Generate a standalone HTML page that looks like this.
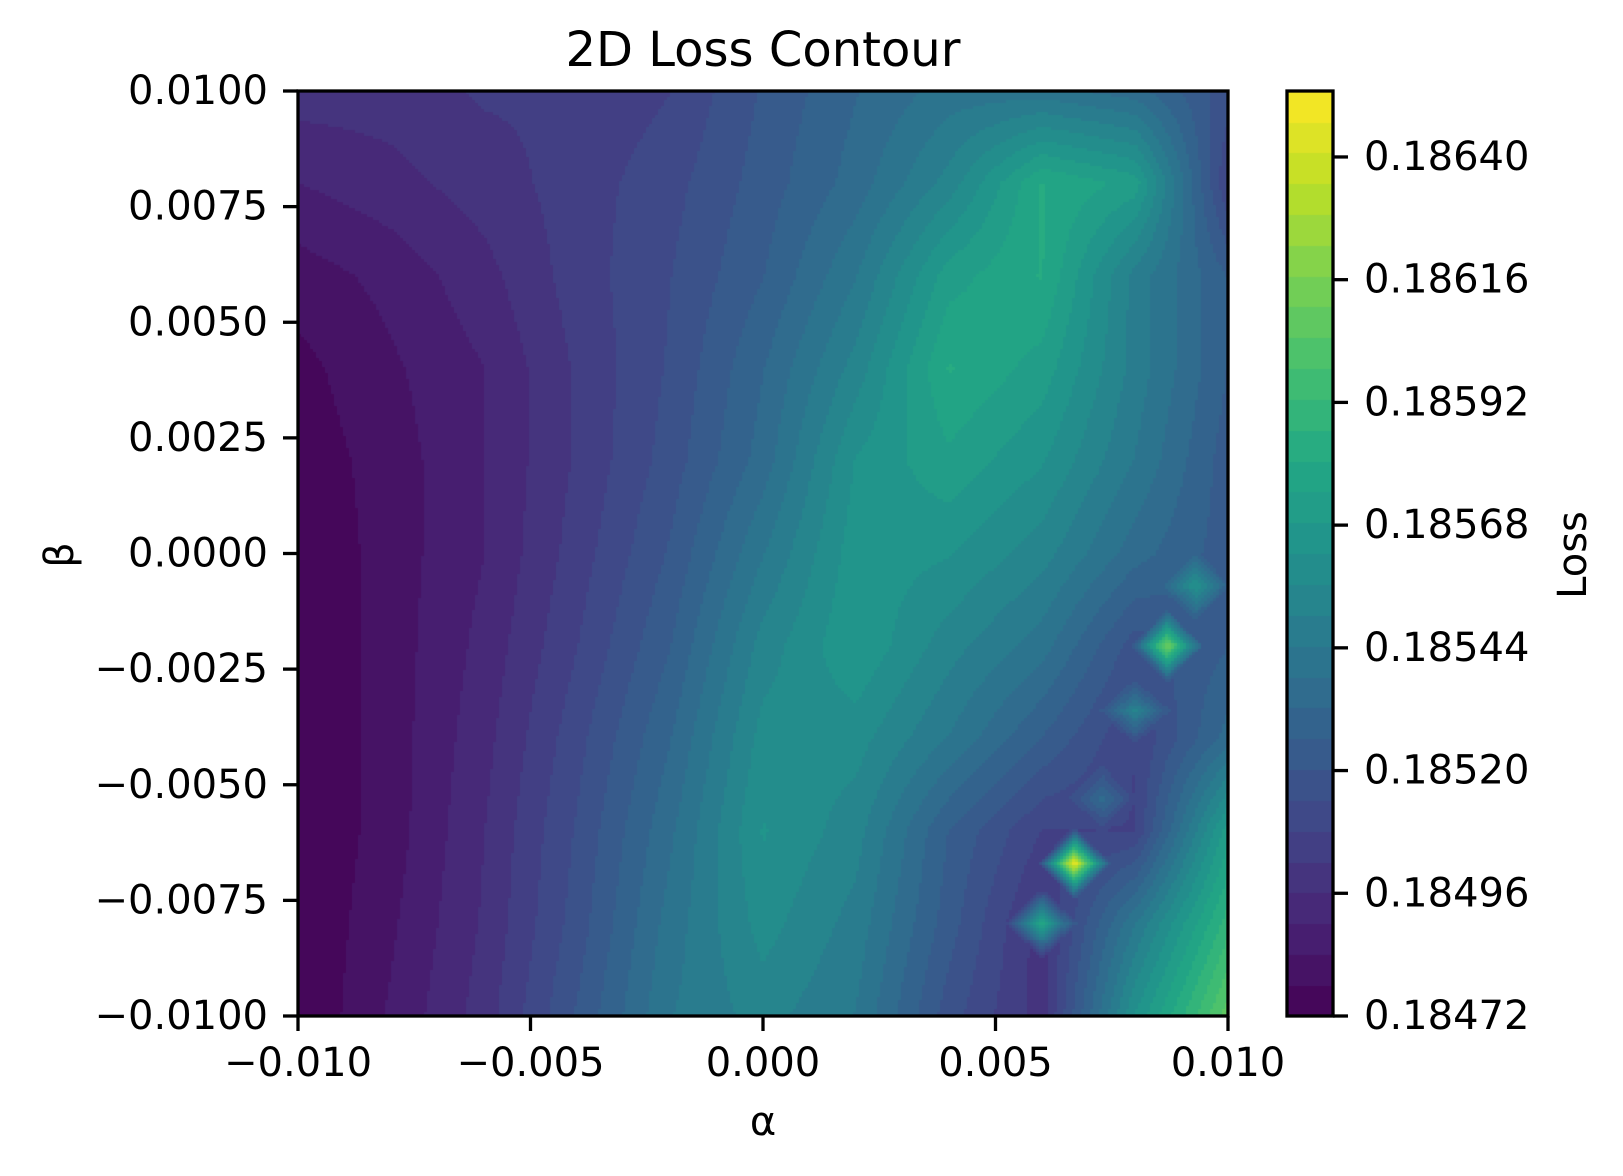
<!DOCTYPE html>
<html><head><meta charset="utf-8"><style>
html,body{margin:0;padding:0;background:#fff;}
#wrap{position:relative;width:1623px;height:1176px;}
svg text{font-family:"DejaVu Sans","Liberation Sans",sans-serif;fill:#000;}
canvas{position:absolute;}
</style></head><body>
<div id="wrap">
<canvas id="field" width="930" height="925" style="left:298px;top:91px"></canvas>
<canvas id="cbar" width="46" height="925" style="left:1287px;top:91px"></canvas>
<svg id="ax" width="1623" height="1176" style="position:absolute;left:0;top:0"></svg>
</div>
<script>
const alphaTicks=[-0.010,-0.005,0.000,0.005,0.010];
const alphaTickLabels=["\u22120.010","\u22120.005","0.000","0.005","0.010"];
const betaTicks=[0.01,0.0075,0.005,0.0025,0,-0.0025,-0.005,-0.0075,-0.01];
const betaTickLabels=["0.0100","0.0075","0.0050","0.0025","0.0000","\u22120.0025","\u22120.0050","\u22120.0075","\u22120.0100"];
const cbTicks=[0.18472,0.18496,0.18520,0.18544,0.18568,0.18592,0.18616,0.18640];
const cbTickLabels=["0.18472","0.18496","0.18520","0.18544","0.18568","0.18592","0.18616","0.18640"];
const gridAlpha=[-0.01,-0.008,-0.006,-0.004,-0.002,0,0.002,0.004,0.006,0.008,0.01];
const gridBeta=[0.01,0.008,0.006,0.004,0.002,0,-0.002,-0.004,-0.006,-0.008,-0.01];
const lossGrid=[
[18499,18499,18503,18503,18508,18521,18532,18541,18541,18535,18517],
[18490,18494,18499,18505,18512,18523,18535,18553,18581,18572,18508],
[18481,18486,18494,18505,18514,18526,18544,18572,18581,18548,18526],
[18476,18483,18490,18503,18515,18532,18553,18581,18572,18548,18526],
[18474,18481,18490,18503,18517,18535,18563,18573,18563,18544,18523],
[18472,18481,18490,18505,18521,18544,18566,18563,18553,18535,18523],
[18472,18481,18492,18508,18526,18553,18568,18553,18541,18517,18526],
[18472,18481,18494,18512,18532,18559,18559,18544,18526,18508,18535],
[18472,18481,18496,18515,18537,18563,18553,18526,18508,18508,18572],
[18472,18483,18497,18517,18541,18559,18548,18523,18499,18544,18590],
[18472,18485,18499,18521,18544,18553,18544,18517,18499,18563,18608]
];
const spikeAlpha=[0.0067,0.0087,0.0060,0.0093,0.0080,0.0073];
const spikeBeta=[-0.0067,-0.0020,-0.0080,-0.0007,-0.0034,-0.0053];
const spikeLoss=[18650,18617,18581,18563,18553,18535];

const vmin=0.18472, vmax=0.186529, nLevels=30;
const PL=298,PT=91,PR=1228,PB=1016,CBL=1287,CBR=1333;
const xS=a=>PL+(a+0.01)/0.02*(PR-PL);
const yS=b=>PT+(0.01-b)/0.02*(PB-PT);
const cS=v=>PB-(v-vmin)/(vmax-vmin)*(PB-PT);
const vir=[[68,1,84],[72,36,117],[65,68,135],[53,95,141],[42,120,142],[33,145,140],[34,168,132],[68,191,112],[122,209,81],[189,223,38],[253,231,37]];
function cmap(t){t=Math.max(0,Math.min(1,t));const f=t*10,i=Math.min(9,Math.floor(f)),r=f-i;const a=vir[i],b=vir[i+1];return `rgb(${Math.round(a[0]+(b[0]-a[0])*r)},${Math.round(a[1]+(b[1]-a[1])*r)},${Math.round(a[2]+(b[2]-a[2])*r)})`;}
function qcol(v){let t=(v-vmin)/(vmax-vmin);let k=Math.floor(t*nLevels);k=Math.max(0,Math.min(nLevels-1,k));return cmap((k+0.5)/nLevels);}
function lossAt(a,b){
  const gi=(a+0.01)/0.002, gj=(0.01-b)/0.002;
  const i=Math.min(9,Math.max(0,Math.floor(gi))), j=Math.min(9,Math.max(0,Math.floor(gj)));
  const u=gi-i,w=gj-j;
  let v=(lossGrid[j][i]*(1-u)*(1-w)+lossGrid[j][i+1]*u*(1-w)+lossGrid[j+1][i]*(1-u)*w+lossGrid[j+1][i+1]*u*w)/1e5;
  for(let s=0;s<spikeAlpha.length;s++){
    const d=Math.abs(a-spikeAlpha[s])+Math.abs(b-spikeBeta[s]);const r=0.0008;
    if(d<r){const base=v;const pk=spikeLoss[s]/1e5;const sv=pk-(pk-base)*(d/r);if(sv>v)v=sv;}
  }
  return v;
}
const fc=document.getElementById('field').getContext('2d');
const cell=3;
for(let y=0;y<925;y+=cell){for(let x=0;x<930;x+=cell){
  const a=-0.01+(x+cell/2)/930*0.02, b=0.01-(y+cell/2)/925*0.02;
  fc.fillStyle=qcol(lossAt(a,b));fc.fillRect(x,y,cell,cell);
}}
const cc=document.getElementById('cbar').getContext('2d');
for(let k=0;k<nLevels;k++){
  const v0=vmin+k*(vmax-vmin)/nLevels,v1=vmin+(k+1)*(vmax-vmin)/nLevels;
  cc.fillStyle=cmap((k+0.5)/nLevels);
  const y0=cS(v1)-PT,y1=cS(v0)-PT;cc.fillRect(0,Math.floor(y0),46,Math.ceil(y1-y0)+1);
}
const svg=document.getElementById('ax');const NS='http://www.w3.org/2000/svg';
function mk(tag,at,txt){const e=document.createElementNS(NS,tag);for(const k in at)e.setAttribute(k,at[k]);if(txt!==undefined)e.textContent=txt;svg.appendChild(e);return e;}
let e;
e=mk('rect',{x:PL,y:PT,width:PR-PL,height:PB-PT,fill:'none',stroke:'#000','stroke-width':3.3});


e=mk('rect',{x:CBL,y:PT,width:CBR-CBL,height:PB-PT,fill:'none',stroke:'#000','stroke-width':3.3});


alphaTicks.forEach((t,i)=>{const x=xS(t);
  e=mk('line',{x1:x,x2:x,y1:PB,y2:PB+15,stroke:'#000','stroke-width':3.3});
  
  
  e=mk('text',{x:x,y:1063,'text-anchor':'middle','dominant-baseline':'central','font-size':40},alphaTickLabels[i]);
  
  
});
betaTicks.forEach((t,i)=>{const y=yS(t);
  e=mk('line',{x1:PL-15,x2:PL,y1:y,y2:y,stroke:'#000','stroke-width':3.3});
  
  
  e=mk('text',{x:283-15,y:y,'text-anchor':'end','dominant-baseline':'central','font-size':40},betaTickLabels[i]);
  
  
});
cbTicks.forEach((t,i)=>{const y=cS(t);
  e=mk('line',{x1:CBR,x2:CBR+15,y1:y,y2:y,stroke:'#000','stroke-width':3.3});
  
  
  e=mk('text',{x:1364,y:y,'text-anchor':'start','dominant-baseline':'central','font-size':40},cbTickLabels[i]);
  
  
});
e=mk('text',{x:(PL+PR)/2,y:50,'text-anchor':'middle','dominant-baseline':'central','font-size':48},'2D Loss Contour');


e=mk('text',{x:(PL+PR)/2,y:1122,'text-anchor':'middle','dominant-baseline':'central','font-size':40},'α');


e=mk('text',{x:0,y:0,'text-anchor':'middle','dominant-baseline':'central','font-size':40,transform:'translate(60,555) rotate(-90)'},'β');


e=mk('text',{x:0,y:0,'text-anchor':'middle','dominant-baseline':'central','font-size':40,transform:'translate(1573,555) rotate(-90)'},'Loss');


</script>
</body></html>
